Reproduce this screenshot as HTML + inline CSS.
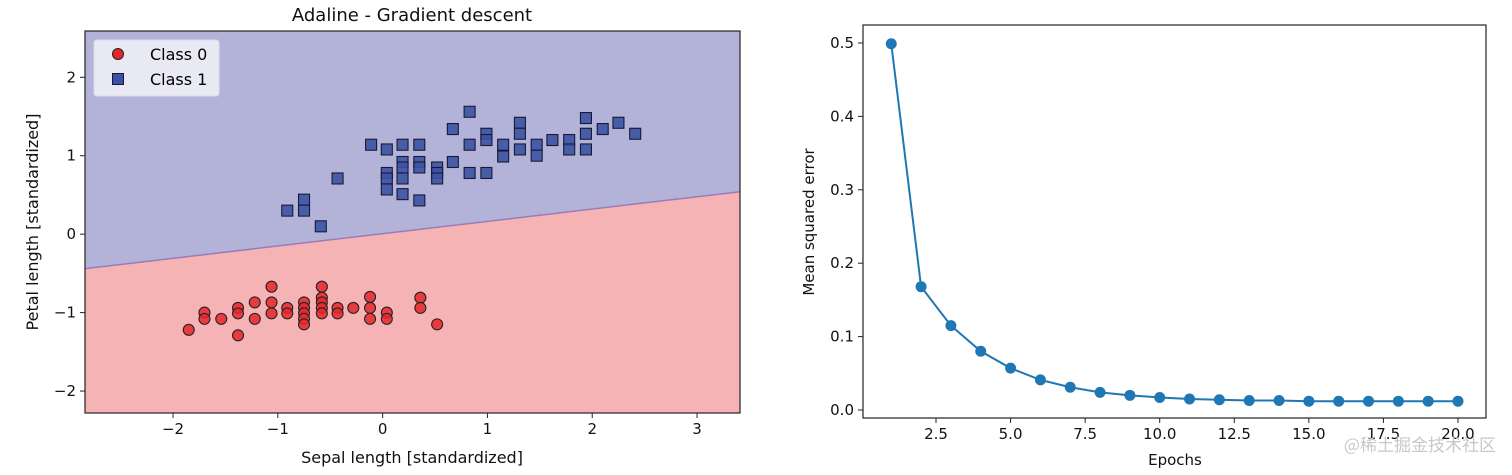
<!DOCTYPE html>
<html><head><meta charset="utf-8"><style>
body{margin:0;background:#fff;font-family:"Liberation Sans","DejaVu Sans",sans-serif}
svg text{font-family:"DejaVu Sans","Liberation Sans",sans-serif}
</style></head><body>
<svg id="s" width="1512" height="470" xmlns="http://www.w3.org/2000/svg">
<g id="left"></g>
<g id="right"></g>
<text x="1496" y="451" text-anchor="end" font-size="17" fill="#c8c8c8" style="font-family:'Noto Sans CJK SC',sans-serif">@稀土掘金技术社区</text>
</svg>
<script>
const NS="http://www.w3.org/2000/svg";
const class0X=[-1.85,-1.70,-1.70,-1.54,-1.38,-1.38,-1.38,-1.22,-1.22,-1.06,-1.06,-1.06,-0.91,-0.91,-0.75,-0.75,-0.75,-0.75,-0.75,-0.58,-0.58,-0.58,-0.58,-0.58,-0.43,-0.43,-0.28,-0.12,-0.12,-0.12,0.04,0.04,0.36,0.36,0.52];
const class0Y=[-1.22,-1.0,-1.08,-1.08,-0.94,-1.01,-1.29,-0.87,-1.08,-0.67,-0.87,-1.01,-0.94,-1.01,-0.87,-0.94,-1.01,-1.08,-1.15,-0.67,-0.81,-0.87,-0.94,-1.01,-0.94,-1.01,-0.94,-0.80,-0.94,-1.08,-1.0,-1.08,-0.81,-0.94,-1.15];
const class1X=[-0.91,-0.75,-0.75,-0.59,-0.43,-0.11,0.04,0.04,0.04,0.04,0.19,0.19,0.19,0.19,0.19,0.35,0.35,0.35,0.35,0.52,0.52,0.52,0.67,0.67,0.83,0.83,0.83,0.99,0.99,0.99,1.15,1.15,1.31,1.31,1.31,1.47,1.47,1.62,1.78,1.78,1.94,1.94,1.94,2.10,2.25,2.41];
const class1Y=[0.30,0.44,0.30,0.10,0.71,1.14,1.08,0.78,0.71,0.57,1.14,0.92,0.85,0.71,0.51,1.14,0.92,0.85,0.43,0.85,0.78,0.71,1.34,0.92,1.56,1.14,0.78,1.28,1.20,0.78,1.14,0.99,1.42,1.28,1.08,1.14,1.00,1.20,1.20,1.08,1.48,1.28,1.08,1.34,1.42,1.28];
const boundarySlope=0.157, boundaryIntercept=0.006;
const xTicksL=[-2,-1,0,1,2,3], yTicksL=[-2,-1,0,1,2];
const epochs=[1,2,3,4,5,6,7,8,9,10,11,12,13,14,15,16,17,18,19,20];
const mse=[0.499,0.168,0.115,0.080,0.057,0.041,0.031,0.024,0.020,0.017,0.015,0.014,0.013,0.013,0.012,0.012,0.012,0.012,0.012,0.012];
const xTicksR=[2.5,5.0,7.5,10.0,12.5,15.0,17.5,20.0], yTicksR=[0.0,0.1,0.2,0.3,0.4,0.5];

function el(p,t,a){const e=document.createElementNS(NS,t);for(const k in a)e.setAttribute(k,a[k]);p.appendChild(e);return e;}
const L=document.getElementById('left');
const lx0=85,lx1=740,ly0=31,ly1=413;
const xmin=-2.84,xmax=3.41,ymin=-2.28,ymax=2.59;
const sx=v=>lx0+(v-xmin)/(xmax-xmin)*(lx1-lx0);
const sy=v=>ly1-(v-ymin)/(ymax-ymin)*(ly1-ly0);
let r=el(L,'rect',{x:lx0,y:ly0,width:lx1-lx0,height:ly1-ly0,fill:'#f6b3b6'});

const yl=boundarySlope*xmin+boundaryIntercept, yr=boundarySlope*xmax+boundaryIntercept;
let pg=el(L,'polygon',{points:`${lx0},${ly0} ${lx1},${ly0} ${lx1},${sy(yr)} ${lx0},${sy(yl)}`,fill:'#b3b3d9'});

let bl=el(L,'line',{x1:lx0,y1:sy(yl),x2:lx1,y2:sy(yr),stroke:'#9a7cb8','stroke-width':1.5});

class0X.forEach((x,i)=>{const c=el(L,'circle',{cx:sx(x),cy:sy(class0Y[i]),r:5.5,fill:'#e3272b',stroke:'#222','stroke-width':1.1,'fill-opacity':0.85});
});
class1X.forEach((x,i)=>{const c=el(L,'rect',{x:sx(x)-5.5,y:sy(class1Y[i])-5.5,width:11,height:11,fill:'#3c52a6',stroke:'#1a1a2e','stroke-width':1.1,'fill-opacity':0.9});
});
let fr=el(L,'rect',{x:lx0,y:ly0,width:lx1-lx0,height:ly1-ly0,fill:'none',stroke:'#222','stroke-width':1.2});

xTicksL.forEach(v=>{el(L,'line',{x1:sx(v),x2:sx(v),y1:ly1,y2:ly1+5,stroke:'#222'});
const t=el(L,'text',{x:sx(v),y:ly1+21,'text-anchor':'middle','font-size':15,fill:'#111'});t.textContent=v<0?'−'+(-v):v;
});
yTicksL.forEach(v=>{el(L,'line',{x1:lx0-5,x2:lx0,y1:sy(v),y2:sy(v),stroke:'#222'});
const t=el(L,'text',{x:lx0-9,y:sy(v)+5,'text-anchor':'end','font-size':15,fill:'#111'});t.textContent=v<0?'−'+(-v):v;
});
</script>
<script>
(function(){const L=document.getElementById('left');
const a=(t,at,txt,name)=>{const e=document.createElementNS(NS,t);for(const k in at)e.setAttribute(k,at[k]);e.textContent=txt;L.appendChild(e);return e;};
a('text',{x:412,y:21,'text-anchor':'middle','font-size':18,fill:'#111'},'Adaline - Gradient descent','left-title');
a('text',{x:412,y:463,'text-anchor':'middle','font-size':16,fill:'#111'},'Sepal length [standardized]','x-axis-title');
a('text',{x:38,y:222,'text-anchor':'middle','font-size':16,fill:'#111',transform:'rotate(-90 38 222)'},'Petal length [standardized]','y-axis-title');
const lg=document.createElementNS(NS,'g');L.appendChild(lg);
const b=document.createElementNS(NS,'rect');[['x',94],['y',40],['width',125],['height',56],['rx',3],['fill','#f2f2f7'],['fill-opacity',0.85],['stroke','#dddde8']].forEach(p=>b.setAttribute(p[0],p[1]));lg.appendChild(b);
const c=document.createElementNS(NS,'circle');[['cx',118],['cy',54],['r',5.5],['fill','#e3272b'],['stroke','#222']].forEach(p=>c.setAttribute(p[0],p[1]));lg.appendChild(c);
const s=document.createElementNS(NS,'rect');[['x',112.5],['y',73.5],['width',11],['height',11],['fill','#3c52a6'],['stroke','#1a1a2e']].forEach(p=>s.setAttribute(p[0],p[1]));lg.appendChild(s);
const t1=document.createElementNS(NS,'text');t1.setAttribute('x',150);t1.setAttribute('y',60);t1.setAttribute('font-size',16);t1.textContent='Class 0';lg.appendChild(t1);
const t2=document.createElementNS(NS,'text');t2.setAttribute('x',150);t2.setAttribute('y',85);t2.setAttribute('font-size',16);t2.textContent='Class 1';lg.appendChild(t2);
})();
(function(){const R=document.getElementById('right');
const rx0=863,rx1=1486,ry0=25,ry1=418;
const ex=v=>936+(v-2.5)*(1458-936)/17.5;
const ey=v=>410-v*(410-43)/0.5;
const f=el(R,'rect',{x:rx0,y:ry0,width:rx1-rx0,height:ry1-ry0,fill:'#fff',stroke:'#222','stroke-width':1.2});

const pl=el(R,'polyline',{points:epochs.map((e,i)=>ex(e)+','+ey(mse[i])).join(' '),fill:'none',stroke:'#1f77b4','stroke-width':2});

epochs.forEach((e,i)=>{const c=el(R,'circle',{cx:ex(e),cy:ey(mse[i]),r:5.5,fill:'#1f77b4'});
});
xTicksR.forEach(v=>{el(R,'line',{x1:ex(v),x2:ex(v),y1:ry1,y2:ry1+5,stroke:'#222'});
const t=el(R,'text',{x:ex(v),y:ry1+21,'text-anchor':'middle','font-size':15,fill:'#111'});t.textContent=v.toFixed(1);
});
yTicksR.forEach(v=>{el(R,'line',{x1:rx0-5,x2:rx0,y1:ey(v),y2:ey(v),stroke:'#222'});
const t=el(R,'text',{x:rx0-9,y:ey(v)+5,'text-anchor':'end','font-size':15,fill:'#111'});t.textContent=v.toFixed(1);
});
const xt=el(R,'text',{x:1175,y:465,'text-anchor':'middle','font-size':15,fill:'#111'});xt.textContent='Epochs';

const yt=el(R,'text',{x:814,y:222,'text-anchor':'middle','font-size':15,fill:'#111',transform:'rotate(-90 814 222)'});yt.textContent='Mean squared error';

})();
</script>
</body></html>
